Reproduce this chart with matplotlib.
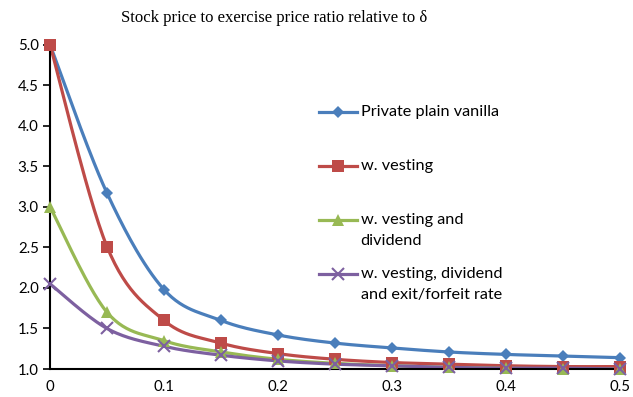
import numpy as np
import matplotlib.pyplot as plt

# data
delta = [0, 0.05, 0.1, 0.15, 0.2, 0.25, 0.3, 0.35, 0.4, 0.45, 0.5]
plain_vanilla = [5.0, 3.17, 1.98, 1.60, 1.42, 1.32, 1.26, 1.21, 1.18, 1.16, 1.14]
vesting = [5.0, 2.51, 1.60, 1.32, 1.19, 1.12, 1.08, 1.06, 1.04, 1.03, 1.03]
vesting_div = [3.0, 1.70, 1.35, 1.21, 1.12, 1.07, 1.04, 1.02, 1.01, 1.0, 1.0]
vesting_div_exit = [2.05, 1.50, 1.28, 1.17, 1.10, 1.06, 1.04, 1.02, 1.01, 1.01, 1.0]

names = [
    "Private plain vanilla",
    "w. vesting",
    "w. vesting and\ndividend",
    "w. vesting, dividend\nand exit/forfeit rate",
]
colors = ["#4A7EBB", "#BE4B48", "#98B954", "#7D60A0"]
markers = ["D", "s", "^", "x"]
msizes = [6, 8, 8, 8]


def smooth(x, y, n=30):
    # catmull-rom style smoothing, like the "smoothed line" option in excel
    x = np.asarray(x, float)
    y = np.asarray(y, float)
    px = np.concatenate([[x[0]], x, [x[-1]]])
    py = np.concatenate([[y[0]], y, [y[-1]]])
    xs, ys = [], []
    t = np.linspace(0, 1, n)
    for i in range(1, len(px) - 2):
        p0 = np.array([px[i], py[i]])
        p3 = np.array([px[i + 1], py[i + 1]])
        c1 = p0 + (p3 - np.array([px[i - 1], py[i - 1]])) / 6
        c2 = p3 - (np.array([px[i + 2], py[i + 2]]) - p0) / 6
        b = (np.outer((1 - t) ** 3, p0) + np.outer(3 * (1 - t) ** 2 * t, c1)
             + np.outer(3 * (1 - t) * t ** 2, c2) + np.outer(t ** 3, p3))
        xs.extend(b[:, 0])
        ys.extend(b[:, 1])
    return xs, ys


fig = plt.figure(figsize=(6.33, 3.97), dpi=100)
ax = fig.add_axes([0.079, 0.0705, 0.9, 0.817])

series = [plain_vanilla, vesting, vesting_div, vesting_div_exit]
handles = []
for vals, name, c, m, ms in zip(series, names, colors, markers, msizes):
    sx, sy = smooth(delta, vals)
    ax.plot(sx, sy, color=c, lw=2.3, solid_capstyle="round", zorder=2)
    ax.plot(delta, vals, ls="none", marker=m, ms=ms, color=c,
            mew=1.5 if m == "x" else 0, zorder=3, clip_on=False)
    h, = ax.plot([], [], color=c, lw=2.3, marker=m, ms=ms,
                 mew=1.5 if m == "x" else 0)
    handles.append(h)

ax.set_xlim(0, 0.5)
ax.set_ylim(1.0, 5.0)
ax.set_xticks(np.arange(0, 0.51, 0.1))
ax.set_xticklabels(["0", "0.1", "0.2", "0.3", "0.4", "0.5"])
ax.set_yticks(np.arange(1.0, 5.01, 0.5))
ax.set_yticklabels(["%.1f" % v for v in np.arange(1.0, 5.01, 0.5)])

for s in ["top", "right"]:
    ax.spines[s].set_visible(False)
for s in ["left", "bottom"]:
    ax.spines[s].set_linewidth(1.5)
ax.tick_params(direction="out", length=5, width=1.2, labelsize=10.8,
               pad=3)
for lab in ax.get_xticklabels() + ax.get_yticklabels():
    lab.set_family("Lato")
ax.tick_params(axis="x", which="both", bottom=False)

fig.text(0.433, 0.955, "Stock price to exercise price ratio relative to δ",
         ha="center", va="center", fontsize=12, family="Liberation Serif")

# legend: every entry padded to two lines so the rows are evenly spaced
leg_labels = [n if "\n" in n else n + "\n " for n in names]
leg = ax.legend(handles, leg_labels, loc="upper left",
                bbox_to_anchor=(0.447, 0.860), frameon=False,
                prop={"family": "Lato", "size": 11.7}, handlelength=2.3,
                handletextpad=0.25, labelspacing=1.17, handleheight=1.2)
for t in leg.get_texts():
    t.set_linespacing(1.65)
for col in leg._legend_handle_box.get_children():
    for item in col.get_children():
        item.align = "top"

fig.savefig("out.png", dpi=100)
